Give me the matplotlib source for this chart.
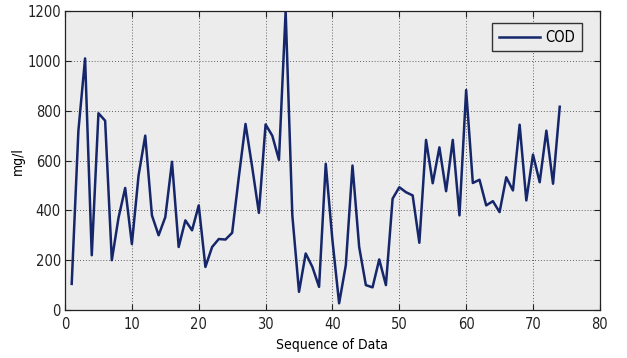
import matplotlib
matplotlib.use("Agg")
import matplotlib.pyplot as plt
import numpy as np

# COD readings per sample
seq = np.arange(1, 75)
cod = [
    105, 720, 1010, 220, 790, 760, 200, 370, 490, 265,
    540, 700, 380, 300, 373, 595, 253, 360, 320, 420,
    173, 253, 285, 283, 310, 535, 747, 573, 390, 745,
    700, 603, 1200, 380, 73, 227, 173, 93, 587, 280,
    27, 180, 580, 253, 100, 91, 203, 100, 447, 493,
    473, 460, 270, 683, 509, 653, 477, 683, 380, 883,
    510, 523, 420, 437, 393, 533, 480, 744, 440, 624,
    513, 720, 507, 816,
]
x_ticks = list(range(0, 81, 10))
y_ticks = list(range(0, 1201, 200))

plt.rcParams["font.family"] = ["DejaVu Sans"]
plt.rcParams["font.stretch"] = "condensed"

fig = plt.figure(figsize=(6.27, 3.58), dpi=100)
ax = fig.add_axes([0.1037, 0.134, 0.853, 0.835])
ax.set_facecolor("#ececec")

ax.plot(seq, cod, color="#15266a", lw=1.8, label="COD")

ax.set_xlim(0, 80)
ax.set_ylim(0, 1200)
ax.set_xticks(x_ticks)
ax.set_yticks(y_ticks)
ax.tick_params(direction="in", top=True, right=True, labelsize=10.5, length=4,
               colors="#222222")
ax.tick_params(axis="x", pad=5)
ax.tick_params(axis="y", pad=3)
ax.grid(True, color="#333333", ls=(0, (1, 2.5)), lw=0.6)
for s in ax.spines.values():
    s.set_color("#222222")
    s.set_linewidth(0.9)

ax.set_xlabel("Sequence of Data", fontsize=10, labelpad=4)
ax.set_ylabel("mg/l", fontsize=10, labelpad=2)

leg = ax.legend(loc="upper right", fontsize=10.5, fancybox=False, framealpha=1,
                handlelength=2.8, borderpad=0.45, handletextpad=0.4,
                borderaxespad=0, bbox_to_anchor=(0.966, 0.96))
leg.get_frame().set_edgecolor("#333333")
leg.get_frame().set_facecolor("#ececec")

fig.savefig("out.png", dpi=100)
